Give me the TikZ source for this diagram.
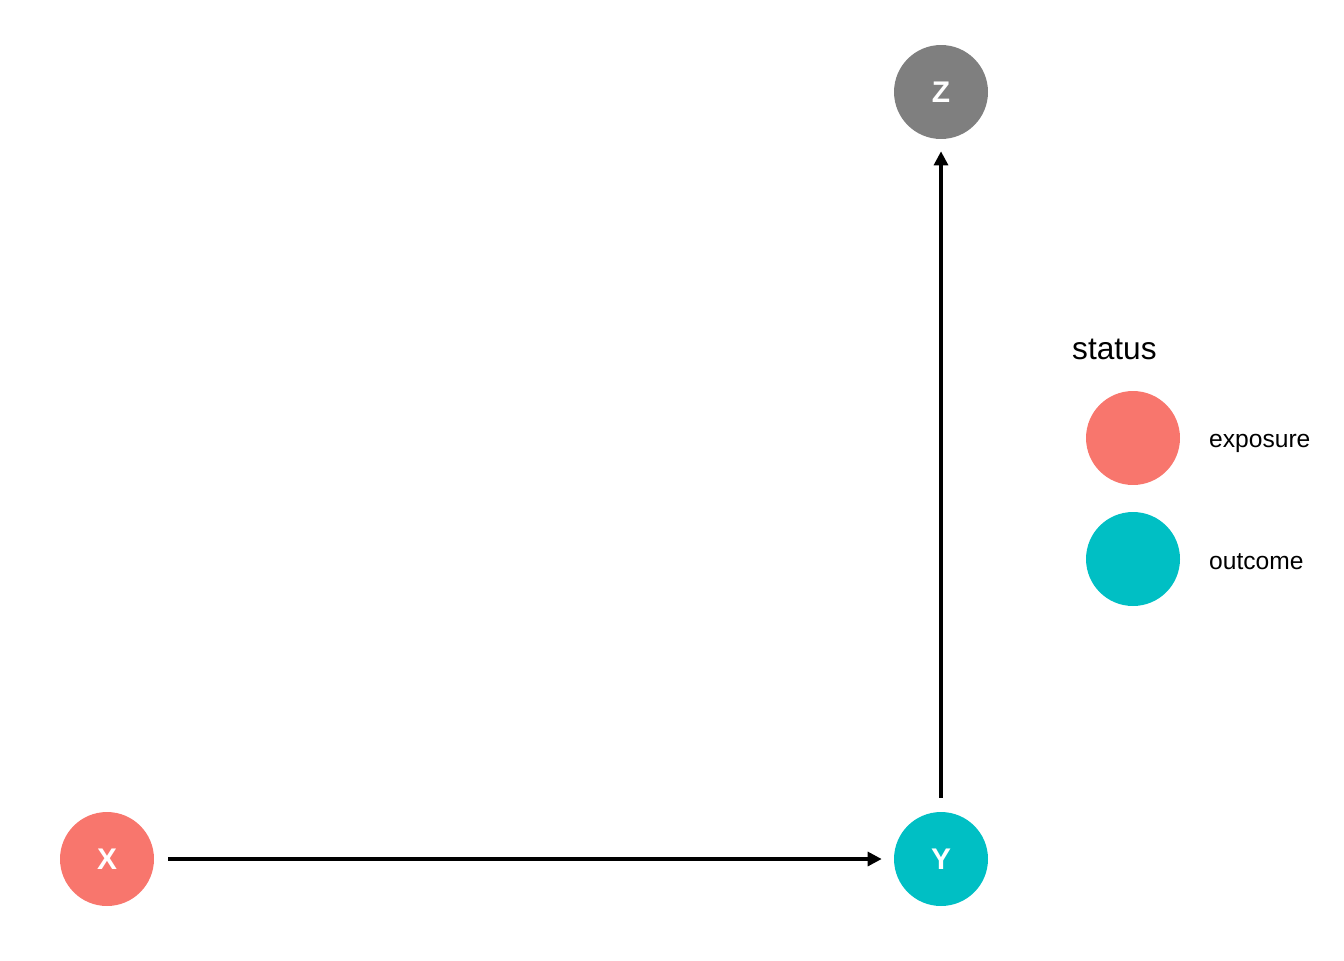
\documentclass[tikz,border=0pt]{standalone}
\usepackage{fontspec}
\setmainfont{Liberation Sans}
\usetikzlibrary{arrows.meta, positioning}
\definecolor{exposurered}{HTML}{F8766D}
\definecolor{outcometeal}{HTML}{00BFC4}
\definecolor{plaingray}{HTML}{7F7F7F}

\begin{document}
\begin{tikzpicture}[
        x=0.02cm, y=-0.02cm,
        dagnode/.style={circle, minimum size=1.88cm, inner sep=0pt, text=white, font=\fontsize{17}{17}\selectfont\bfseries},
        keydot/.style={circle, minimum size=1.88cm, inner sep=0pt},
        keytext/.style={anchor=west, font=\fontsize{14}{14}\selectfont},
        arrow/.style={-{Triangle[length=0.28cm, width=0.28cm]}, line width=1.8pt, shorten <=0.28cm, shorten >=0.24cm}
    ]
        \useasboundingbox (0,0) rectangle (1344,960);
        \node[dagnode, fill=exposurered] (x) at (107,859) {X};
        \node[dagnode, fill=outcometeal] (y) at (941,859) {Y};
        \node[dagnode, fill=plaingray] (z) at (941,92) {Z};

        \draw[arrow] (x) -- (y);
        \draw[arrow] (y) -- (z);

        % legend
        \node[anchor=west, font=\fontsize{18}{18}\selectfont] (status) at (1066,349) {status};
        \node[keydot, fill=exposurered] (keyexp) at (1133,438) {};
        \node[keydot, fill=outcometeal] (keyout) at (1133,559) {};
        \node[keytext] (expl) at (1203,443) {exposure};
        \node[keytext] (outl) at (1203,562) {outcome};
    \end{tikzpicture}
\end{document}
